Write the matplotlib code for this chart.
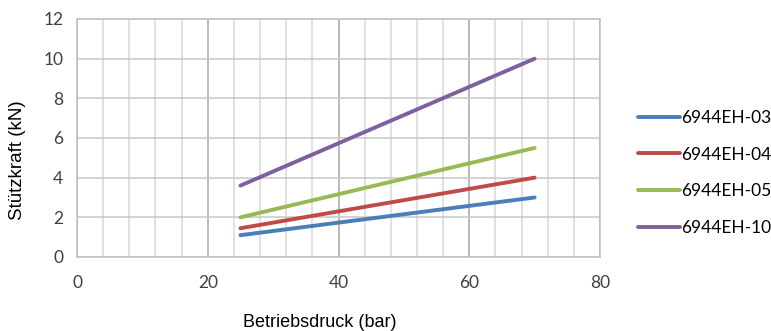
import numpy as np
import matplotlib.pyplot as plt
from matplotlib.ticker import MultipleLocator

# Daten
druck = [25, 70]
s_03 = [1.1, 3.0]
s_04 = [1.45, 4.0]
s_05 = [2.0, 5.5]
s_10 = [3.6, 10.0]
namen = ['6944EH-03', '6944EH-04', '6944EH-05', '6944EH-10']
farben = ['#4A7EBB', '#BE4B48', '#98B954', '#7D60A0']

fig = plt.figure(figsize=(7.71, 3.31), dpi=100)
ax = fig.add_axes([0.0999, 0.2236, 0.6783, 0.719])

for werte, name, farbe in zip([s_03, s_04, s_05, s_10], namen, farben):
    ax.plot(druck, werte, color=farbe, lw=2.8, label=name, solid_capstyle='round')

ax.set_xlim(0, 80)
ax.set_ylim(0, 12)
ax.xaxis.set_major_locator(MultipleLocator(20))
ax.xaxis.set_minor_locator(MultipleLocator(4))
ax.yaxis.set_major_locator(MultipleLocator(2))
ax.grid(which='major', axis='x', color='#A6A6A6', lw=1.1)
ax.grid(which='minor', axis='x', color='#D9D9D9', lw=1.1)
ax.grid(which='major', axis='y', color='#C8C8C8', lw=1.1)
ax.set_axisbelow(True)
for s in ax.spines.values():
    s.set_color('#C0C0C0')
    s.set_linewidth(1.1)
ax.tick_params(which='both', length=0, labelsize=12.5, colors='#404040')
ax.tick_params(axis='x', pad=13)
ax.tick_params(axis='y', pad=10)
for lab in ax.get_xticklabels() + ax.get_yticklabels():
    lab.set_family('Lato')

ax.set_xlabel('Betriebsdruck (bar)', fontsize=13, family='Liberation Sans')
ax.set_ylabel('Stützkraft (kN)', fontsize=13.5, family='Liberation Sans')
ax.xaxis.set_label_coords(0.465, -0.24)
ax.yaxis.set_label_coords(-0.097, 0.408)

leg = ax.legend(loc='center left', bbox_to_anchor=(1.0727, 0.353), frameon=False,
                prop={'family': 'Lato', 'size': 12.5}, handlelength=2.4,
                handletextpad=0.1, labelspacing=1.2, borderaxespad=0, borderpad=0)

fig.savefig('out.png', dpi=100)
